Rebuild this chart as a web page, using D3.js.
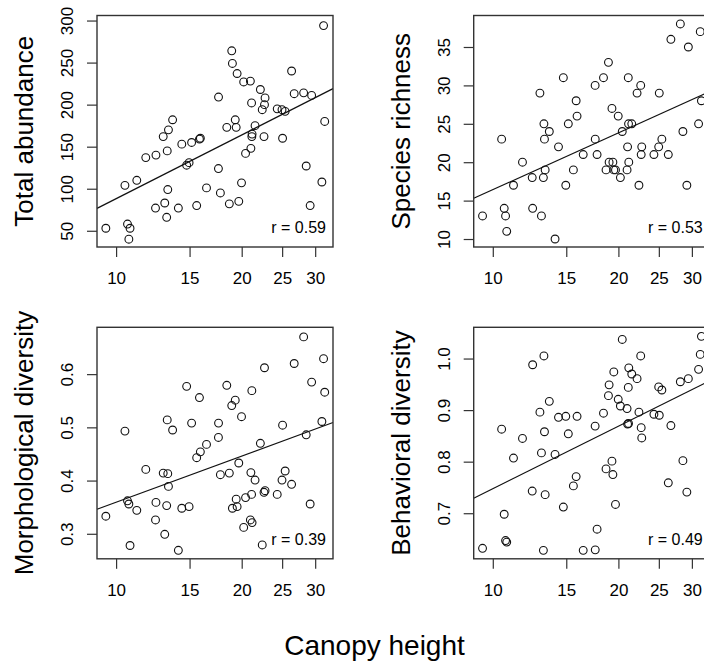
<!DOCTYPE html>
<html>
<head>
<meta charset="utf-8">
<script src="https://cdn.jsdelivr.net/npm/d3@7"></script>
<style>
  body { margin: 0; background: #fff; }
  svg { display: block; font-family: "Liberation Sans", Arial, sans-serif; }
</style>
</head>
<body>
<svg id="root" width="704" height="664"></svg>
<script>
"use strict";

// canopy height per site (shared x for all four panels)
const canopyHeight = [
  9.45, 10.5, 10.65, 10.73, 10.8, 11.21, 11.78, 12.43, 12.46, 12.97,
  13.08, 13.22, 13.26, 13.3, 13.35, 13.66, 14.1, 14.37, 14.76, 14.96,
  15.17, 15.6, 15.84, 15.92, 16.47, 17.59, 17.6, 17.78, 18.42, 18.68,
  18.93, 19.0, 19.3, 19.4, 19.5, 19.68, 19.98, 20.22, 20.43, 20.98,
  21.04, 21.12, 21.15, 21.18, 21.53, 22.17, 22.4, 22.62, 22.68, 22.75,
  24.33, 24.98, 25.06, 25.42, 26.34, 26.72, 28.15, 28.55, 29.18, 29.42,
  31.13, 31.42, 31.62,
];

const totalAbundance = [
  53, 104, 58, 40, 53, 110, 137, 77, 140, 162,
  83, 66, 145, 99, 170, 182, 77, 153, 128, 131,
  155, 80, 159, 160, 101, 124, 209, 95, 173, 82,
  264, 249, 182, 173, 237, 85, 107, 227, 142, 228,
  148, 202, 162, 165, 175, 218, 194, 162, 200, 208,
  195, 194, 160, 192, 240, 213, 214, 127, 80, 211,
  108, 294, 180,
];

const speciesRichness = [
  13, 23, 14, 13, 11, 17, 20, 18, 14, 29,
  13, 18, 25, 23, 19, 24, 10, 22, 31, 17,
  25, 19, 28, 26, 21, 30, 23, 21, 31, 19,
  33, 20, 27, 20, 19, 19, 26, 18, 24, 19,
  22, 31, 25, 20, 25, 29, 17, 30, 21, 22,
  21, 22, 29, 23, 21, 36, 38, 24, 17, 35,
  25, 37, 28,
];

const morphologicalDiversity = [
  0.333, 0.493, 0.362, 0.356, 0.278, 0.344, 0.421, 0.326, 0.359, 0.414,
  0.299, 0.353, 0.514, 0.413, 0.389, 0.495, 0.269, 0.348, 0.577, 0.351,
  0.508, 0.443, 0.556, 0.454, 0.468, 0.481, 0.508, 0.411, 0.579, 0.414,
  0.541, 0.348, 0.551, 0.365, 0.351, 0.433, 0.52, 0.312, 0.368, 0.326,
  0.415, 0.374, 0.569, 0.321, 0.401, 0.47, 0.279, 0.378, 0.612, 0.381,
  0.374, 0.401, 0.504, 0.418, 0.393, 0.62, 0.67, 0.486, 0.356, 0.585,
  0.511, 0.629, 0.566,
];

const behavioralDiversity = [
  0.632, 0.863, 0.698, 0.647, 0.644, 0.807, 0.845, 0.743, 0.988, 0.896,
  0.817, 0.628, 1.005, 0.858, 0.736, 0.917, 0.814, 0.886, 0.712, 0.888,
  0.854, 0.753, 0.771, 0.888, 0.628, 0.869, 0.629, 0.669, 0.894, 0.786,
  0.928, 0.949, 0.801, 0.775, 0.974, 0.717, 0.921, 0.908, 1.037, 0.903,
  0.873, 0.944, 0.874, 0.982, 0.97, 0.961, 0.896, 1.005, 0.866, 0.846,
  0.892, 0.945, 0.89, 0.939, 0.759, 0.87, 0.955, 0.802, 0.741, 0.961,
  0.979, 1.008, 1.043,
];

// fitted line end values (y ~ log canopy height)
const abundanceFit = [76.6, 219];
const richnessFit = [15.3, 29.2];
const morphologicalFit = [0.346, 0.509];
const behavioralFit = [0.729, 0.957];

const panelLabels = [
  "Total abundance",
  "Species richness",
  "Morphological diversity",
  "Behavioral diversity",
];
const rLabels = ["r = 0.59", "r = 0.53", "r = 0.39", "r = 0.49"];

const xTicks = [10, 15, 20, 25, 30];
const abundanceTicks = [50, 100, 150, 200, 250, 300];
const richnessTicks = [10, 15, 20, 25, 30, 35];
const morphologicalTicks = [0.3, 0.4, 0.5, 0.6];
const behavioralTicks = [0.7, 0.8, 0.9, 1.0];

const xDomain = [9.0, 33.1];
const fitRange = [9.0, 33.1];

const boxWidth = 236;
const boxHeight = 231.5;

const panels = [
  {
    label: panelLabels[0], r: rLabels[0], values: totalAbundance,
    fit: abundanceFit, ticks: abundanceTicks, domain: [30.7, 306],
    format: d3.format("d"), left: 97, top: 15.5,
  },
  {
    label: panelLabels[1], r: rLabels[1], values: speciesRichness,
    fit: richnessFit, ticks: richnessTicks, domain: [8.96, 39.1],
    format: d3.format("d"), left: 473.7, top: 15.5,
  },
  {
    label: panelLabels[2], r: rLabels[2], values: morphologicalDiversity,
    fit: morphologicalFit, ticks: morphologicalTicks, domain: [0.253, 0.688],
    format: d3.format(".1f"), left: 97, top: 327.3,
  },
  {
    label: panelLabels[3], r: rLabels[3], values: behavioralDiversity,
    fit: behavioralFit, ticks: behavioralTicks, domain: [0.6116, 1.0606],
    format: d3.format(".1f"), left: 473.7, top: 327.3,
  },
];

const svg = d3.select("#root");

panels.forEach(drawPanel);

// shared x-axis title
svg
  .append("text")
  .attr("x", 374.5)
  .attr("y", 655)
  .attr("text-anchor", "middle")
  .attr("font-size", 28)
  .attr("fill", "#000")
  .text("Canopy height");

function drawPanel(p) {
  const g = svg
    .append("g")
    .attr("transform", `translate(${p.left},${p.top})`);

  const x = d3.scaleLog().domain(xDomain).range([0, boxWidth]);
  const y = d3.scaleLinear().domain(p.domain).range([boxHeight, 0]);

  // x axis
  const xAxis = g
    .append("g")
    .attr("transform", `translate(0,${boxHeight})`)
    .call(
      d3.axisBottom(x).tickValues(xTicks).tickFormat(d3.format("d")).tickSize(10)
    );
  xAxis.select(".domain").remove();
  xAxis.attr("font-family", null).attr("font-size", null);
  xAxis.selectAll("line").attr("stroke", "#333").attr("stroke-width", 1.2);
  xAxis
    .selectAll("text")
    .attr("y", 37)
    .attr("dy", 0)
    .attr("font-size", 17)
    .attr("fill", "#000");

  // y axis, labels rotated like base R
  const yAxis = g
    .append("g")
    .call(d3.axisLeft(y).tickValues(p.ticks).tickFormat(p.format).tickSize(10));
  yAxis.select(".domain").remove();
  yAxis.attr("font-family", null).attr("font-size", null);
  yAxis.selectAll("line").attr("stroke", "#333").attr("stroke-width", 1.2);
  yAxis
    .selectAll("text")
    .attr("x", 0)
    .attr("y", -24)
    .attr("dy", 0)
    .attr("transform", "rotate(-90)")
    .attr("text-anchor", "middle")
    .attr("font-size", 17)
    .attr("fill", "#000");

  // points
  g.append("g")
    .selectAll("circle")
    .data(d3.zip(canopyHeight, p.values))
    .join("circle")
    .attr("cx", (d) => x(d[0]))
    .attr("cy", (d) => y(d[1]))
    .attr("r", 3.9)
    .attr("fill", "none")
    .attr("stroke", "#111")
    .attr("stroke-width", 1.1);

  // fitted line
  g.append("line")
    .attr("x1", x(fitRange[0]))
    .attr("y1", y(p.fit[0]))
    .attr("x2", x(fitRange[1]))
    .attr("y2", y(p.fit[1]))
    .attr("stroke", "#111")
    .attr("stroke-width", 1.2);

  // plot box
  g.append("rect")
    .attr("width", boxWidth)
    .attr("height", boxHeight)
    .attr("fill", "none")
    .attr("stroke", "#333")
    .attr("stroke-width", 1.4);

  // correlation label
  g.append("text")
    .attr("x", boxWidth - 7)
    .attr("y", boxHeight - 14)
    .attr("text-anchor", "end")
    .attr("font-size", 16)
    .attr("fill", "#000")
    .text(p.r);

  // y-axis title
  g.append("text")
    .attr("transform", `translate(-64,${boxHeight / 2}) rotate(-90)`)
    .attr("text-anchor", "middle")
    .attr("font-size", 26)
    .attr("fill", "#000")
    .text(p.label);
}
</script>
</body>
</html>
